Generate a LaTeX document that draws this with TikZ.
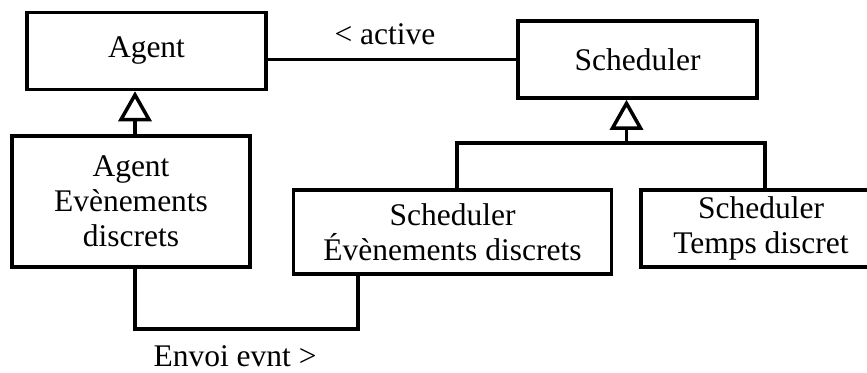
\documentclass[tikz,border=0pt]{standalone}
\usepackage{fontspec}
\setmainfont{Liberation Serif}
\usetikzlibrary{arrows.meta}
\begin{document}
\begin{tikzpicture}[x=1pt,y=-1pt,
  box/.style={draw,line width=3.5pt,rectangle,align=center,inner sep=0pt,
    font=\fontsize{31.5}{35}\selectfont},
  lbl/.style={font=\fontsize{31.5}{35}\selectfont,inner sep=0pt},
  conn/.style={line width=3.5pt},
  gen/.style={conn,-{Triangle[open,length=30pt 0 0,width=33pt 0 0,line width=3.5pt]}}]
\clip (0,0) rectangle (867,372);
\node[box,minimum width=239pt,minimum height=77pt] (Agent) at (146.5,51) {Agent};
\node[box,minimum width=239pt,minimum height=77pt] (Sched) at (637.5,59.5) {Scheduler};
\node[box,minimum width=238pt,minimum height=131pt] (AED) at (131,201.5) {Agent\\Evènements\\discrets};
\node[box,minimum width=318pt,minimum height=84pt] (SED) at (452.5,232) {Scheduler\\Évènements discrets};
\node[box,minimum width=240pt,minimum height=77pt] (STD) at (761,228.5) {Scheduler\\Temps discret};
\node[lbl] (act) at (385,34) {< active};
\node[lbl] (env) at (235,356) {Envoi evnt >};
\coordinate (j) at (626.5,143);
\coordinate (low) at (0,329);
\draw[conn] (Sched.west) -- (Sched.west -| Agent.east);
\draw[gen] ([xshift=4pt]AED.north) -- ([xshift=4pt]AED.north |- Agent.south);
\draw[gen] (j) -- (j |- Sched.south);
\draw[conn] ([xshift=4.5pt]SED.north) |- (j) -| ([xshift=4pt]STD.north);
\draw[conn] ([xshift=4pt]AED.south) -- ([xshift=4pt]AED.south |- low) -| ([xshift=-94.5pt]SED.south);
\end{tikzpicture}
\end{document}
